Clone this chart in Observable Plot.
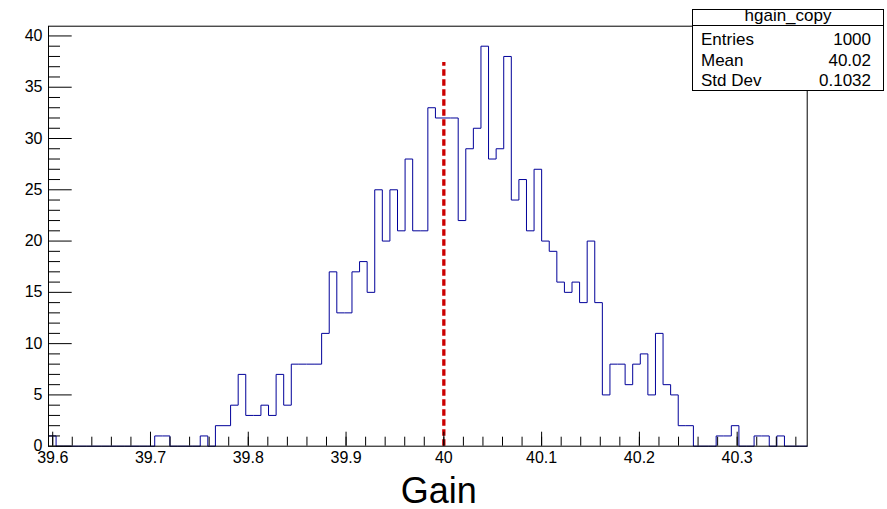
<!DOCTYPE html>
<html><head><meta charset="utf-8">
<script src="https://cdn.jsdelivr.net/npm/d3@7"></script>
<script src="https://cdn.jsdelivr.net/npm/@observablehq/plot@0.6"></script>
<style>
html,body{margin:0;padding:0;background:#fff;}
#chart{width:887px;height:509px;}
</style></head><body><div id="chart"></div>
<script>
// ---- data ----
const binLow = 39.5957;
const binHigh = 40.3716;
const counts = [
  1,0,0,0,0,0,0,0,0,0,
  0,0,0,0,1,1,0,0,0,0,
  1,0,2,2,4,7,3,3,4,3,
  7,4,8,8,8,8,11,17,13,13,
  17,18,15,25,20,25,21,28,21,21,
  33,32,32,32,22,29,31,39,28,29,
  38,24,26,21,27,20,19,16,15,16,
  14,20,14,5,8,8,6,8,9,5,
  11,6,5,2,2,0,0,0,1,1,
  2,0,0,1,1,0,1,0,0,0
];
const yMax = 40.95;
const yTicks = [0,5,10,15,20,25,30,35,40];
const xTicks = [39.6,39.7,39.8,39.9,40.0,40.1,40.2,40.3];
const meanLineX = 40.0;
const meanLineTop = 37.4;
const axisTitle = "Gain";
const statsTitle = "hgain_copy";
const statLabels = ["Entries","Mean","Std Dev"];
const statValues = ["1000","40.02","0.1032"];

// ---- layout ----
const W = 887, H = 509;
const mL = 48, mR = 80.3, mT = 25.7, mB = 63.3;
const innerW = W - mL - mR, innerH = H - mT - mB;
const font = "'Liberation Sans', Arial, Helvetica, sans-serif";

const nBins = counts.length;
const bw = (binHigh - binLow) / nBins;
const steps = [{x: binLow, y: 0}];
counts.forEach((c, i) => steps.push({x: binLow + i * bw, y: c}));
steps.push({x: binHigh, y: counts[nBins - 1]});
steps.push({x: binHigh, y: 0});

const minorY = d3.range(0, 41, 1).filter(v => v % 5 !== 0);
const minorX = d3.range(0, 39).map(k => +(39.6 + k * 0.02).toFixed(2)).filter(v => v < binHigh);

const plot = Plot.plot({
  width: W, height: H,
  marginLeft: mL, marginRight: mR, marginTop: mT, marginBottom: mB,
  style: {fontFamily: font, fontSize: "16px", background: "#fff", color: "#000"},
  x: {domain: [binLow, binHigh], label: null},
  y: {domain: [0, yMax], label: null},
  marks: [
    Plot.line(steps, {x: "x", y: "y", curve: "step-after", stroke: "#000099", strokeWidth: 1}),
    Plot.ruleX([meanLineX], {y1: 0, y2: meanLineTop, stroke: "#cc0000", strokeWidth: 3.3, strokeDasharray: "6.5,3.5"}),
    Plot.ruleY(minorY, {stroke: "#000", insetRight: innerW - 12}),
    Plot.ruleY(yTicks, {stroke: "#000", insetRight: innerW - 23.7}),
    Plot.ruleX(minorX, {stroke: "#000", insetTop: innerH - 9}),
    Plot.ruleX(xTicks, {stroke: "#000", insetTop: innerH - 14}),
    Plot.axisY(yTicks, {tickSize: 0, tickPadding: 6, fontSize: 16, label: null}),
    Plot.axisX(xTicks, {tickSize: 0, tickPadding: 5, fontSize: 16, label: null, tickFormat: d => String(+d.toFixed(2))}),
    Plot.text([axisTitle], {text: d => d, frameAnchor: "bottom", dx: 11, dy: 57, lineAnchor: "bottom", fontSize: 36}),
    Plot.frame({stroke: "#000"})
  ]
});
document.getElementById("chart").appendChild(plot);

// ---- stats box ----
const svg = d3.select(plot);
const g = svg.append("g").attr("font-family", font).attr("fill", "#000").attr("text-anchor", "start");
const bx = 692.5, by = 9.5, bwid = 191, bh = 81;
g.append("rect").attr("x", bx).attr("y", by).attr("width", bwid).attr("height", bh)
  .attr("fill", "#fff").attr("stroke", "#000").attr("stroke-width", 1);
g.append("line").attr("x1", bx).attr("x2", bx + bwid).attr("y1", 25.5).attr("y2", 25.5)
  .attr("stroke", "#000").attr("stroke-width", 1);
g.append("text").attr("x", bx + bwid / 2).attr("y", 20.5).attr("text-anchor", "middle")
  .attr("font-size", 17).text(statsTitle);
const rowBase = [45, 65.7, 86];
statLabels.forEach((lab, i) => {
  g.append("text").attr("x", 701).attr("y", rowBase[i]).attr("text-anchor", "start").attr("font-size", 17).text(lab);
  g.append("text").attr("x", 871).attr("y", rowBase[i]).attr("text-anchor", "end").attr("font-size", 17).text(statValues[i]);
});
</script>
</body></html>
